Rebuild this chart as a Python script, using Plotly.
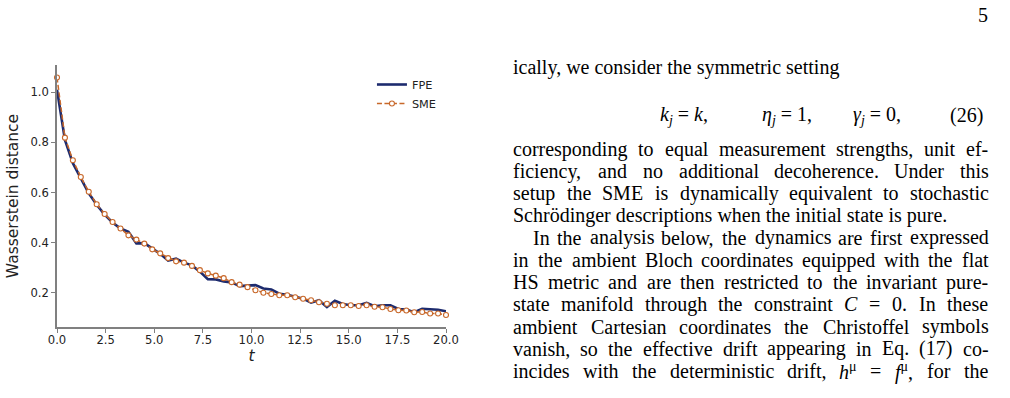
import re
import plotly.graph_objects as go

# ---------------- data ----------------
t = [0.000, 0.408, 0.816, 1.224, 1.633, 2.041, 2.449, 2.857, 3.265, 3.673,
     4.082, 4.490, 4.898, 5.306, 5.714, 6.122, 6.531, 6.939, 7.347, 7.755,
     8.163, 8.571, 8.980, 9.388, 9.796, 10.204, 10.612, 11.020, 11.429, 11.837,
     12.245, 12.653, 13.061, 13.469, 13.878, 14.286, 14.694, 15.102, 15.510, 15.918,
     16.327, 16.735, 17.143, 17.551, 17.959, 18.367, 18.776, 19.184, 19.592, 20.000]

fpe = [1.010, 0.810, 0.717, 0.655, 0.597, 0.551, 0.512, 0.480, 0.456, 0.443,
       0.397, 0.398, 0.377, 0.355, 0.328, 0.336, 0.320, 0.309, 0.284, 0.254,
       0.253, 0.245, 0.241, 0.226, 0.228, 0.230, 0.217, 0.213, 0.196, 0.192,
       0.184, 0.176, 0.160, 0.170, 0.143, 0.168, 0.155, 0.150, 0.150, 0.159,
       0.146, 0.150, 0.150, 0.135, 0.133, 0.122, 0.136, 0.135, 0.132, 0.126]

sme = [1.059, 0.819, 0.729, 0.662, 0.603, 0.553, 0.514, 0.482, 0.456, 0.429,
       0.412, 0.396, 0.373, 0.357, 0.338, 0.325, 0.320, 0.307, 0.290, 0.277,
       0.268, 0.258, 0.242, 0.232, 0.222, 0.210, 0.200, 0.195, 0.190, 0.190,
       0.182, 0.176, 0.170, 0.162, 0.156, 0.150, 0.150, 0.150, 0.147, 0.150,
       0.144, 0.142, 0.135, 0.130, 0.129, 0.122, 0.123, 0.117, 0.117, 0.111]

x_ticks = [0, 2.5, 5, 7.5, 10, 12.5, 15, 17.5, 20]
x_tick_labels = ["0.0", "2.5", "5.0", "7.5", "10.0", "12.5", "15.0", "17.5", "20.0"]
y_ticks = [0.2, 0.4, 0.6, 0.8, 1.0]
y_tick_labels = ["0.2", "0.4", "0.6", "0.8", "1.0"]

series_names = ["FPE", "SME"]
x_label = "<i>t</i>"
y_label = "Wasserstein distance"

page_number = "5"
intro_line = "ically, we consider the symmetric setting"
eq_parts = ["<i>k</i><sub><i>j</i></sub> = <i>k</i>,",
            "<i>η</i><sub><i>j</i></sub> = 1,",
            "<i>γ</i><sub><i>j</i></sub> = 0,",
            "(26)"]
para1 = [
    "corresponding to equal measurement strengths, unit ef-",
    "ficiency, and no additional decoherence. Under this",
    "setup the SME is dynamically equivalent to stochastic",
]
para1_last = "Schrödinger descriptions when the initial state is pure."
para2 = [
    "In the analysis below, the dynamics are first expressed",
    "in the ambient Bloch coordinates equipped with the flat",
    "HS metric and are then restricted to the invariant pure-",
    "state manifold through the constraint <i>C</i> = 0. In these",
    "ambient Cartesian coordinates the Christoffel symbols",
    "vanish, so the effective drift appearing in Eq. (17) co-",
    "incides with the deterministic drift, <i>h</i><sup>μ</sup> = <i>f</i><sup>μ</sup>, for the",
]

# ---------------- geometry ----------------
W, H = 1010, 398
ML, MR, MT, MB = 52, 564, 65, 71
PW = W - ML - MR
PH = H - MT - MB


def px_x(px):
    return (px - ML) / PW


def px_y(py):
    return (H - MB - py) / PH


NAVY = "#1d2b6e"
ORANGE = "#c8682a"
SPINE = "#808080"
TXT = "#222222"
SERIF = "Liberation Serif"
FS = 20

# Times-Roman advance widths (1/1000 em)
TW = {
    'a': 444, 'b': 500, 'c': 444, 'd': 500, 'e': 444, 'f': 333, 'g': 500, 'h': 500,
    'i': 278, 'j': 278, 'k': 500, 'l': 278, 'm': 778, 'n': 500, 'o': 500, 'p': 500,
    'q': 500, 'r': 333, 's': 389, 't': 278, 'u': 500, 'v': 500, 'w': 722, 'x': 500,
    'y': 500, 'z': 444, ' ': 250, ',': 250, '.': 250, '-': 333, '(': 333, ')': 333,
    '=': 564, 'ö': 500, 'μ': 500,
    'A': 722, 'B': 667, 'C': 667, 'D': 722, 'E': 611, 'F': 556, 'G': 722, 'H': 722,
    'I': 333, 'J': 389, 'K': 722, 'L': 611, 'M': 889, 'N': 722, 'O': 722, 'P': 556,
    'Q': 722, 'R': 667, 'S': 556, 'T': 611, 'U': 722, 'V': 722, 'W': 944, 'X': 722,
    'Y': 722, 'Z': 611,
}
for d in "0123456789":
    TW[d] = 500


def text_width(html, size=FS):
    total = 0.0
    scale = 1.0
    for tok in re.split(r'(<[^>]+>)', html):
        if not tok:
            continue
        if tok.startswith('<'):
            tag = tok.strip('<>/').lower()
            if tag in ('sup', 'sub'):
                scale = 1.0 if tok.startswith('</') else 0.7
            continue
        for ch in tok:
            total += TW.get(ch, 500) * scale
    return total * size / 1000.0


annotations = []


def add_text(text, x, y, xanchor='left', size=FS):
    annotations.append(dict(
        text=text, x=px_x(x), y=px_y(y), xref='paper', yref='paper',
        xanchor=xanchor, yanchor='middle', showarrow=False, borderpad=0,
        font=dict(family=SERIF, size=size, color='black')))


def add_justified(line, x0, x1, y):
    words = line.split(' ')
    widths = [text_width(w) for w in words]
    gap = (x1 - x0 - sum(widths)) / (len(words) - 1)
    x = x0
    for w, wd in zip(words, widths):
        add_text(w, x, y)
        x += wd + gap


LEFT, RIGHT, INDENT = 513, 994, 533
LINE0, LSTEP = 149, 22.2

add_text(page_number, 996, 15, xanchor='right')
add_text(intro_line, LEFT, 68)
for part, xpos in zip(eq_parts, [662, 765, 857, 955]):
    add_text(part, xpos, 115)

row = 0
for ln in para1:
    add_justified(ln, LEFT, RIGHT, LINE0 + row * LSTEP)
    row += 1
add_text(para1_last, LEFT, LINE0 + row * LSTEP)
row += 1
for i, ln in enumerate(para2):
    add_justified(ln, INDENT if i == 0 else LEFT, RIGHT, LINE0 + row * LSTEP)
    row += 1

# ---------------- figure ----------------
fig = go.Figure()
fig.add_trace(go.Scatter(
    x=t, y=fpe, name=series_names[0], mode='lines',
    line=dict(color=NAVY, width=2.6)))
fig.add_trace(go.Scatter(
    x=t, y=sme, name=series_names[1], mode='lines+markers',
    line=dict(color=ORANGE, width=1.5, dash='5px,2.5px'),
    marker=dict(symbol='circle', size=5, color='white',
                line=dict(color=ORANGE, width=1.1)),
    cliponaxis=False))

axis_common = dict(
    showline=True, linecolor=SPINE, linewidth=1.6, mirror=False,
    showgrid=False, zeroline=False, ticks='outside', ticklen=4,
    tickwidth=1.2, tickcolor=SPINE,
    tickfont=dict(family='DejaVu Sans', size=11.6, color=TXT))

fig.update_xaxes(range=[0, 20], tickvals=x_ticks, ticktext=x_tick_labels,
                 ticklabelstandoff=-3,
                 title=dict(text=x_label, standoff=1,
                            font=dict(family='DejaVu Sans', size=15.5, color=TXT)),
                 **axis_common)
fig.update_yaxes(range=[0.063, 1.109], tickvals=y_ticks, ticktext=y_tick_labels,
                 title=dict(text=y_label, standoff=8,
                            font=dict(family='DejaVu Sans', size=15.5, color=TXT)),
                 **axis_common)

fig.update_layout(
    width=W, height=H, autosize=False,
    margin=dict(l=ML, r=MR, t=MT, b=MB, pad=0),
    paper_bgcolor='white', plot_bgcolor='white',
    showlegend=True,
    legend=dict(x=px_x(371), y=px_y(70), xanchor='left', yanchor='top',
                font=dict(family='DejaVu Sans', size=11.3, color=TXT),
                bgcolor='rgba(0,0,0,0)', itemwidth=30, tracegroupgap=0),
    annotations=annotations,
)

fig.write_html("out.html")
